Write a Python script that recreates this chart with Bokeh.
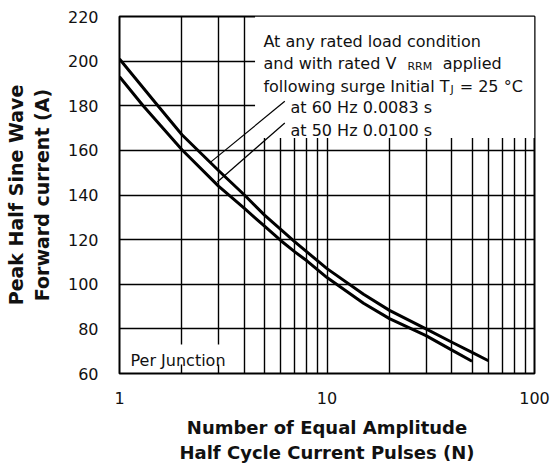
from bokeh.plotting import figure
from bokeh.models import FixedTicker, Label, Range1d, BasicTickFormatter
from bokeh.embed import file_html
from bokeh.resources import INLINE

# ---- data ----
n_60hz = [1, 1.5, 2, 3, 4, 5, 6, 7, 8, 10, 15, 20, 30, 40, 50, 60]
i_60hz = [201, 181, 167, 151, 140, 131, 124.5, 119, 114.5, 107, 95.5, 88.3, 80, 74, 69.5, 65.7]
n_50hz = [1, 1.3, 2, 3, 4, 5, 6, 7, 8, 10, 15, 20, 30, 40, 50]
i_50hz = [193, 180, 160.3, 144, 134, 126, 119.5, 114.5, 110.5, 103, 91.5, 84.6, 77, 70.5, 65.5]

x_ticks = [1, 10, 100]
x_tick_labels = ["1", "10", "100"]
y_ticks = [60, 80, 100, 120, 140, 160, 180, 200, 220]
x_grid = [1, 2, 3, 4, 5, 6, 7, 8, 9, 10, 20, 30, 40, 50, 60, 70, 80, 90, 100]

# leader lines (text -> curve)
leader_x0 = [6.26, 6.26]
leader_y0 = [182.0, 172.3]
leader_x1 = [2.73, 2.96]
leader_y1 = [154.5, 145.8]

FONT = "DejaVu Sans"
INK = "#111111"

p = figure(x_axis_type="log", x_range=Range1d(1, 100), y_range=Range1d(60, 220),
           frame_width=415, frame_height=357,
           min_border_left=119, min_border_right=17, min_border_top=16, min_border_bottom=95,
           output_backend="svg", toolbar_location=None)

p.background_fill_color = "white"
p.border_fill_color = "white"
p.outline_line_color = "black"
p.outline_line_width = 2

# grids
p.xgrid.ticker = FixedTicker(ticks=x_grid)
p.ygrid.ticker = FixedTicker(ticks=y_ticks)
for g in (p.xgrid, p.ygrid):
    g.grid_line_color = "black"
    g.grid_line_width = 1.4
    g.grid_line_alpha = 1.0

# axes
p.xaxis.ticker = FixedTicker(ticks=x_ticks, minor_ticks=[])
p.xaxis.formatter = BasicTickFormatter()
p.xaxis.major_label_overrides = {t: s for t, s in zip(x_ticks, x_tick_labels)}
p.yaxis.ticker = FixedTicker(ticks=y_ticks, minor_ticks=[])
for ax in (p.xaxis, p.yaxis):
    ax.axis_line_color = None
    ax.major_tick_line_color = None
    ax.minor_tick_line_color = None
    ax.major_label_text_font = FONT
    ax.major_label_text_font_size = "16px"
    ax.major_label_text_color = INK
    ax.axis_label_text_font = FONT
    ax.axis_label_text_font_style = "bold"
    ax.axis_label_text_color = INK
p.xaxis.axis_label_text_font_size = "18px"
p.yaxis.axis_label_text_font_size = "19px"
p.xaxis.major_label_standoff = 12
p.yaxis.major_label_standoff = 15
p.xaxis.axis_label = "Number of Equal Amplitude\nHalf Cycle Current Pulses (N)"
p.yaxis.axis_label = "Peak Half Sine Wave\nForward current (A)"
p.xaxis.axis_label_standoff = 10
p.yaxis.axis_label_standoff = 12

# white boxes behind texts
p.quad(left=[4.5], right=[100], bottom=[165.5], top=[220], fill_color="white", line_color=None)
p.quad(left=[1.07], right=[3.75], bottom=[64.0], top=[73.0], fill_color="white", line_color=None)

# curves
p.line(n_60hz, i_60hz, line_width=3, line_color="black", line_join="round")
p.line(n_50hz, i_50hz, line_width=3, line_color="black", line_join="round")

# leader lines
p.segment(x0=leader_x0, y0=leader_y0, x1=leader_x1, y1=leader_y1, line_width=1.2, line_color="black")

def lab(x, y, text, size="16px", align="left"):
    p.add_layout(Label(x=x, y=y, text=text, text_font=FONT, text_font_size=size,
                       text_color=INK, text_align=align, text_baseline="alphabetic"))

lab(4.94, 208.9, "At any rated load condition")
lab(4.94, 198.8, "and with rated V")
lab(24.4, 197.4, "RRM", size="11px")
lab(36.1, 198.8, "applied")
lab(4.94, 188.8, "following surge Initial T")
lab(39.4, 187.4, "J", size="11px")
lab(43.6, 188.8, "= 25 °C")
lab(6.67, 179.1, "at 60 Hz 0.0083 s")
lab(6.67, 169.0, "at 50 Hz 0.0100 s")
lab(1.13, 65.8, "Per Junction")

open("out.html", "w").write(file_html(p, INLINE))
